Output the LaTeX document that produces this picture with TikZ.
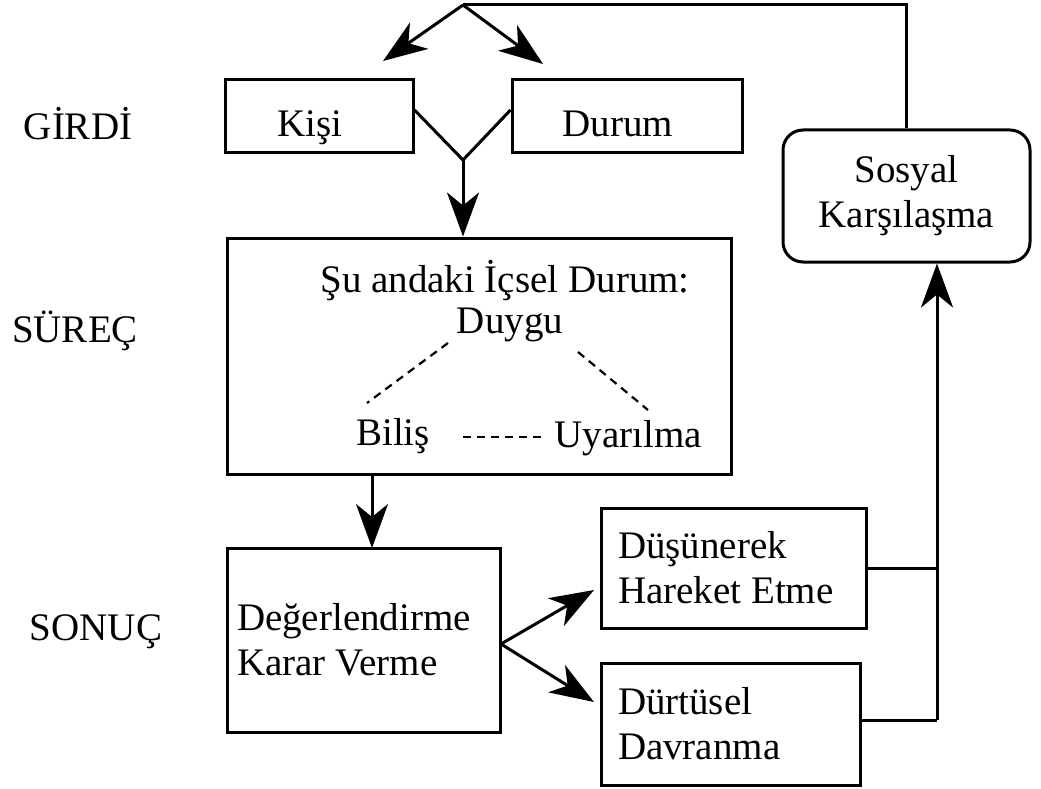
\documentclass[tikz,border=0pt]{standalone}
\usepackage{fontspec}
\setmainfont{Liberation Serif}
\usetikzlibrary{arrows.meta,calc}
\begin{document}
\begin{tikzpicture}[x=1pt,y=-1pt,
  every node/.style={font=\fontsize{39}{45}\selectfont, inner sep=0pt},
  box/.style={draw, line width=3pt},
  one/.style={text height=42pt, text depth=0pt},
  ln/.style={line width=3pt},
  arr/.style={line width=3pt, -{Stealth[length=44pt,width=32pt,inset=13pt]}},
  dsh/.style={line width=2.2pt, dash pattern=on 8pt off 6pt}]
\useasboundingbox (0,0) rectangle (1041,789);
% side labels
\node (girdi) at (78,124) {GİRDİ};
\node (surecl) at (75,331) {SÜREÇ};
\node (sonuc) at (96,632) {SONUÇ};
% boxes
\node[box, one, minimum width=188, minimum height=72] (kisi) at (319,116) {\hspace*{-18pt}Kişi};
\node[box, one, minimum width=230, minimum height=72] (durum) at (627,116) {\hspace*{-18pt}Durum};
\node[box, minimum width=504, minimum height=236] (surec) at (479,356) {};
\node[box, rounded corners=20pt, minimum width=247, minimum height=132, align=center] (sosyal) at (906.5,196) {Sosyal\\Karşılaşma};
\node[box, minimum height=184, text width=253, inner xsep=10pt, align=flush left] (deg) at (363.5,640) {Değerlendirme\\Karar Verme};
\node[box, minimum height=120, text width=231, inner xsep=17pt, align=flush left] (dus) at (733.5,568) {Düşünerek\\Hareket Etme};
\node[box, minimum height=122, text width=225, inner xsep=17pt, align=flush left] (durt) at (730.5,724) {Dürtüsel\\Davranma};
% inner texts of process box
\node (icsel) at (505,281) {Şu andaki İçsel Durum:};
\node (duygu) at (510,325) {Duygu};
\node (bilis) at (393,436) {Biliş};
\node (uyar) at (628,438) {Uyarılma};
\coordinate (d1a) at (448,343);
\coordinate (d1b) at (367,403);
\coordinate (d2a) at (578,352);
\coordinate (d2b) at (648,410);
\coordinate (d3a) at (463,437);
\coordinate (d3b) at (542,437);
\draw[dsh] (d1a) -- (d1b);
\draw[dsh] (d2a) -- (d2b);
\draw[dsh] (d3a) -- (d3b);
% top feedback
\coordinate (top) at (463,5);
\coordinate (tl) at (383,61);
\coordinate (tr) at (543,64);
\draw[ln] (sosyal.north) |- (top);
\draw[arr] (top) -- (tl);
\draw[arr] (top) -- (tr);
% junction of inputs
\coordinate (j) at (463,160);
\draw[ln] ([yshift=6pt]kisi.east) -- (j) -- ([yshift=6pt]durum.west);
\draw[arr] (j) -- (j |- surec.north);
% process to evaluation
\draw[arr] (372,474) -- (372,548);
% evaluation to outcomes
\coordinate (e) at (501,644);
\coordinate (a1) at (594,590);
\coordinate (a2) at (594,702);
\draw[arr] (e) -- (a1);
\draw[arr] (e) -- (a2);
% outcomes to social
\coordinate (v) at (937,720);
\draw[ln] (dus.east) -- (dus.east -| v);
\draw[ln] (durt.east |- v) -- (v);
\draw[arr] (v) -- (v |- sosyal.south);
\end{tikzpicture}
\end{document}
